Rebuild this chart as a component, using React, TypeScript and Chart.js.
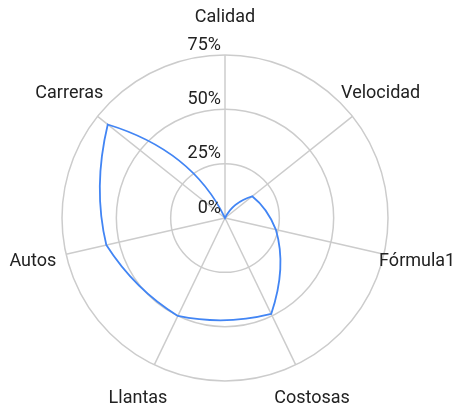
import React, { useEffect, useRef } from "react";
import { Chart, registerables } from "chart.js";

Chart.register(...registerables);

const categories = ["Calidad", "Velocidad", "Fórmula1", "Costosas", "Llantas", "Autos", "Carreras"];
const values = [0, 16, 24, 49, 50, 56, 69];
const tickValues = [0, 25, 50, 75];
const tickLabels = ["0%", "25%", "50%", "75%"];

const FONT = "18px Roboto";
const TEXT_COLOR = "#222";
const LINE_COLOR = "#4285F4";

// Draws the series as curved segments between the points, using the radial scale
const curvedLinePlugin = {
  id: "curvedLine",
  afterDatasetsDraw(chart: any) {
    const scale = chart.scales.r;
    const ctx = chart.ctx;
    const meta = chart.getDatasetMeta(0);
    const pts = meta.data;
    const data = chart.data.datasets[0].data as number[];
    const n = pts.length;
    ctx.save();
    ctx.strokeStyle = LINE_COLOR;
    ctx.lineWidth = 1.8;
    ctx.lineJoin = "miter";
    ctx.beginPath();
    ctx.moveTo(pts[0].x, pts[0].y);
    for (let i = 0; i < n; i++) {
      const j = (i + 1) % n;
      const c = scale.getPointPositionForValue(i + 0.5, (data[i] + data[j]) / 2);
      ctx.quadraticCurveTo(c.x, c.y, pts[j].x, pts[j].y);
    }
    ctx.closePath();
    ctx.stroke();
    ctx.restore();
  },
};

const labelsPlugin = {
  id: "customLabels",
  afterDraw(chart: any) {
    const scale = chart.scales.r;
    const ctx = chart.ctx;
    ctx.save();
    ctx.font = FONT;
    ctx.fillStyle = TEXT_COLOR;
    ctx.textAlign = "right";
    ctx.textBaseline = "middle";
    tickValues.forEach((v, i) => {
      const d = scale.getDistanceFromCenterForValue(v);
      ctx.fillText(tickLabels[i], scale.xCenter - 4, scale.yCenter - d - 10);
    });
    ctx.textAlign = "center";
    const R = scale.drawingArea;
    categories.forEach((c, i) => {
      const ang = (Math.PI * 2 * i) / categories.length;
      const dist = R + 33 + 5 * Math.abs(Math.cos(ang));
      const p = scale.getPointPosition(i, dist);
      ctx.fillText(c, p.x, p.y);
    });
    ctx.restore();
  },
};

export default function App() {
  const ref = useRef<HTMLCanvasElement>(null);
  useEffect(() => {
    document.body.style.margin = "0";
    const chart = new Chart(ref.current as HTMLCanvasElement, {
      type: "radar",
      data: {
        labels: categories,
        datasets: [
          {
            data: values,
            borderColor: LINE_COLOR,
            backgroundColor: "transparent",
            showLine: false,
            pointRadius: 0,
            pointHoverRadius: 0,
            fill: false,
          },
        ],
      },
      options: {
        animation: false,
        responsive: false,
        layout: { padding: { left: 0, right: 4, top: 55, bottom: 32 } },
        plugins: { legend: { display: false }, tooltip: { enabled: false } },
        scales: {
          r: {
            min: 0,
            max: 75,
            ticks: { display: false, stepSize: 25 },
            pointLabels: { display: false },
            grid: { circular: true, color: "#cccccc", lineWidth: 1.5 },
            angleLines: { color: "#cccccc", lineWidth: 1.5 },
          },
        },
      },
      plugins: [curvedLinePlugin, labelsPlugin],
    });
    return () => chart.destroy();
  }, []);
  return (
    <div style={{ width: 454, height: 413 }}>
      <canvas ref={ref} width={454} height={413} />
    </div>
  );
}
